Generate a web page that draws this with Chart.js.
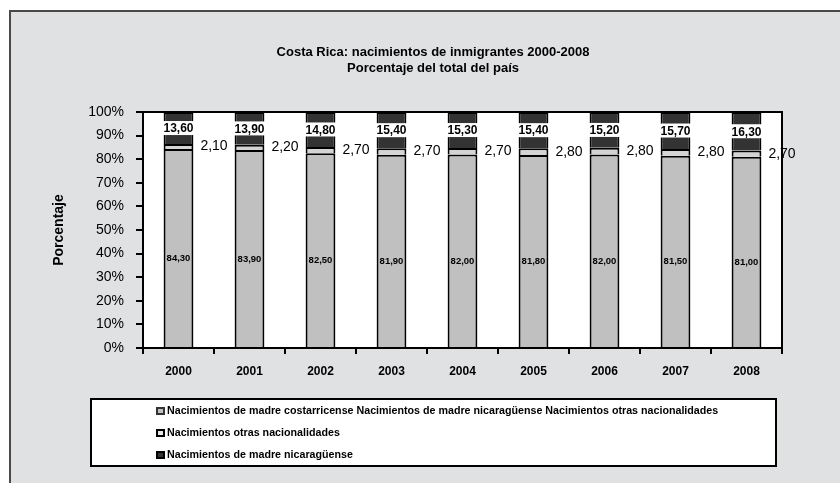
<!DOCTYPE html>
<html>
<head>
<meta charset="utf-8">
<script src="https://cdn.jsdelivr.net/npm/chart.js@4.4.1/dist/chart.umd.min.js"></script>
<style>
  html, body { margin: 0; padding: 0; background: #fff; }
  #wrap { width: 840px; height: 483px; position: relative; }
</style>
</head>
<body>
<div id="wrap"><canvas id="chart" width="840" height="483"></canvas></div>
<script>
// Costa Rica: births by mother's nationality (% of country total)
const years = ['2000', '2001', '2002', '2003', '2004', '2005', '2006', '2007', '2008'];
const costarricense = [84.30, 83.90, 82.50, 81.90, 82.00, 81.80, 82.00, 81.50, 81.00];
const otras = [2.10, 2.20, 2.70, 2.70, 2.70, 2.80, 2.80, 2.80, 2.70];
const nicaraguense = [13.60, 13.90, 14.80, 15.40, 15.30, 15.40, 15.20, 15.70, 16.30];
const yTicks = [0, 10, 20, 30, 40, 50, 60, 70, 80, 90, 100];

const titleLines = ['Costa Rica: nacimientos de inmigrantes 2000-2008', 'Porcentaje del total del país'];
const legendItems = [
    { text: 'Nacimientos de madre costarricense Nacimientos de madre nicaragüense Nacimientos otras nacionalidades', fill: '#c0c0c0', border: '#333' },
    { text: 'Nacimientos otras nacionalidades', fill: '#e6e6e6', border: '#000' },
    { text: 'Nacimientos de madre nicaragüense', fill: '#333333', border: '#000' }
];

const FONT = '"Liberation Sans", Arial, sans-serif';
const fmt = v => v.toFixed(2).replace('.', ',');

// Background, frame, title, legend box and value labels
const framePlugin = {
    id: 'frame',
    beforeDraw(chart) {
        const { ctx, chartArea: a } = chart;
        ctx.save();
        ctx.fillStyle = '#ffffff';
        ctx.fillRect(0, 0, chart.width, chart.height);
        ctx.fillStyle = '#e0e1e3';
        ctx.fillRect(10, 11, chart.width - 10, chart.height - 11);
        ctx.strokeStyle = '#4a4a4a';
        ctx.lineWidth = 2;
        ctx.beginPath();
        ctx.moveTo(10, chart.height);
        ctx.lineTo(10, 11);
        ctx.lineTo(chart.width, 11);
        ctx.stroke();

        // plot area
        ctx.fillStyle = '#ffffff';
        ctx.fillRect(a.left, a.top, a.right - a.left, a.bottom - a.top);

        // title
        ctx.fillStyle = '#000';
        ctx.font = 'bold 13px ' + FONT;
        ctx.textAlign = 'center';
        ctx.textBaseline = 'middle';
        ctx.fillText(titleLines[0], 433, 52);
        ctx.fillText(titleLines[1], 433, 68);
        ctx.restore();
    },
    afterDraw(chart) {
        const { ctx, chartArea: a } = chart;
        ctx.save();
        // plot border top/right
        ctx.strokeStyle = '#000';
        ctx.lineWidth = 2;
        ctx.beginPath();
        ctx.moveTo(a.left, a.top);
        ctx.lineTo(a.right, a.top);
        ctx.lineTo(a.right, a.bottom);
        ctx.stroke();

        // legend box
        ctx.fillStyle = '#ffffff';
        ctx.fillRect(91, 399, 685, 67);
        ctx.lineWidth = 2;
        ctx.strokeRect(91, 399, 685, 67);
        const rowsY = [411, 433, 455];
        ctx.font = 'bold 10.7px ' + FONT;
        ctx.textAlign = 'left';
        ctx.textBaseline = 'middle';
        legendItems.forEach((it, i) => {
            const y = rowsY[i];
            ctx.fillStyle = it.border;
            ctx.fillRect(156, y - 4, 9, 8);
            ctx.fillStyle = it.fill;
            ctx.fillRect(158, y - 2, 5, 4);
            ctx.fillStyle = '#000';
            ctx.fillText(it.text, 167, y);
        });
        ctx.restore();
    },
    afterDatasetsDraw(chart) {
        const { ctx } = chart;
        const m0 = chart.getDatasetMeta(0).data;
        const m1 = chart.getDatasetMeta(1).data;
        const m2 = chart.getDatasetMeta(2).data;
        const yScale = chart.scales.y;
        ctx.save();
        ctx.textBaseline = 'middle';
        years.forEach((yr, i) => {
            // costarricense label inside grey segment
            const b0 = m0[i];
            ctx.fillStyle = '#000';
            ctx.font = 'bold 9.5px ' + FONT;
            ctx.textAlign = 'center';
            ctx.fillText(fmt(costarricense[i]), b0.x, yScale.getPixelForValue(costarricense[i] * 0.45));

            // otras label right of bar
            const b1 = m1[i];
            ctx.font = '14px ' + FONT;
            ctx.textAlign = 'left';
            ctx.fillText(fmt(otras[i]), b1.x + b1.width / 2 + 7, (b1.y + b1.base) / 2);

            // nicaragüense label with white box
            const b2 = m2[i];
            const cy = (b2.y + b2.base) / 2;
            ctx.font = 'bold 12px ' + FONT;
            const w = ctx.measureText(fmt(nicaraguense[i])).width + 6;
            ctx.fillStyle = '#ffffff';
            ctx.fillRect(b2.x - w / 2, cy - 7, w, 14);
            ctx.fillStyle = '#000';
            ctx.textAlign = 'center';
            ctx.fillText(fmt(nicaraguense[i]), b2.x, cy + 1);
        });
        ctx.restore();
    }
};

const barCommon = {
    borderColor: '#000',
    borderWidth: 2,
    borderSkipped: 'bottom',
    barPercentage: 1,
    categoryPercentage: 0.42
};

new Chart(document.getElementById('chart'), {
    type: 'bar',
    data: {
        labels: years,
        datasets: [
            Object.assign({ label: 'Nacimientos de madre costarricense', data: costarricense, backgroundColor: '#c0c0c0' }, barCommon),
            Object.assign({ label: 'Nacimientos otras nacionalidades', data: otras, backgroundColor: '#d4d4d4' }, barCommon),
            Object.assign({ label: 'Nacimientos de madre nicaragüense', data: nicaraguense, backgroundColor: '#333333' }, barCommon)
        ]
    },
    options: {
        responsive: false,
        devicePixelRatio: 1,
        animation: false,
        layout: { padding: { left: 45, right: 58, top: 112, bottom: 95 } },
        plugins: {
            legend: { display: false },
            title: { display: false },
            tooltip: { enabled: false }
        },
        scales: {
            x: {
                stacked: true,
                afterFit: s => { s.height = 40; },
                grid: { drawOnChartArea: false, color: '#000', lineWidth: 2, tickLength: 6, offset: true },
                border: { color: '#000', width: 2 },
                ticks: { color: '#000', font: { family: FONT, size: 12, weight: 'bold' }, padding: 10 }
            },
            y: {
                stacked: true,
                min: 0,
                max: 100,
                afterFit: s => { s.width = 98; },
                afterBuildTicks: s => { s.ticks = yTicks.map(v => ({ value: v })); },
                grid: { drawOnChartArea: false, color: '#000', lineWidth: 2, tickLength: 7 },
                border: { color: '#000', width: 2 },
                ticks: { color: '#000', font: { family: FONT, size: 14 }, padding: 12, callback: v => v + '%' },
                title: { display: true, text: 'Porcentaje', color: '#000', font: { family: FONT, size: 14, weight: 'bold' }, padding: { top: 6, bottom: 0 } }
            }
        }
    },
    plugins: [framePlugin]
});
</script>
</body>
</html>
